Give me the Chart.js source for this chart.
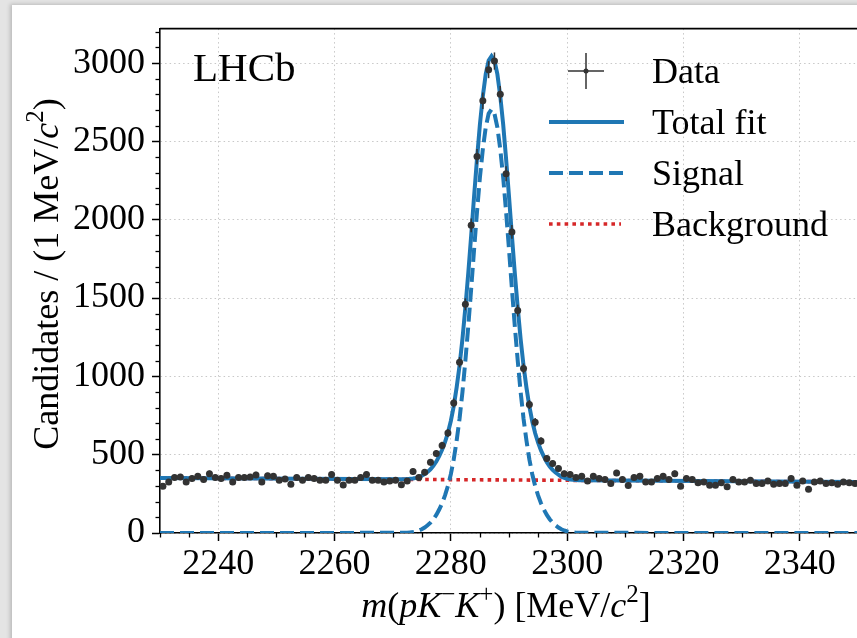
<!DOCTYPE html>
<html>
<head>
<meta charset="utf-8">
<script src="https://cdn.jsdelivr.net/npm/chart.js@4.4.1/dist/chart.umd.min.js"></script>
<style>
  html, body { margin: 0; padding: 0; width: 857px; height: 638px; overflow: hidden; background: #e4e4e4; }
  .sheet { position: absolute; left: 12px; top: 5px; width: 900px; height: 700px; background: #fff; box-shadow: -2px -1px 4px rgba(0,0,0,0.18); }
  #wrap { position: absolute; left: 0; top: 0; width: 872px; height: 638px; }
</style>
</head>
<body>
<div class="sheet"></div>
<div id="wrap"><canvas id="massChart" width="872" height="638"></canvas></div>
<script>
// bin centres of the 1 MeV histogram
const massBins = [
  2230.5, 2231.5, 2232.5, 2233.5, 2234.5, 2235.5, 2236.5, 2237.5, 2238.5, 2239.5,
  2240.5, 2241.5, 2242.5, 2243.5, 2244.5, 2245.5, 2246.5, 2247.5, 2248.5, 2249.5,
  2250.5, 2251.5, 2252.5, 2253.5, 2254.5, 2255.5, 2256.5, 2257.5, 2258.5, 2259.5,
  2260.5, 2261.5, 2262.5, 2263.5, 2264.5, 2265.5, 2266.5, 2267.5, 2268.5, 2269.5,
  2270.5, 2271.5, 2272.5, 2273.5, 2274.5, 2275.5, 2276.5, 2277.5, 2278.5, 2279.5,
  2280.5, 2281.5, 2282.5, 2283.5, 2284.5, 2285.5, 2286.5, 2287.5, 2288.5, 2289.5,
  2290.5, 2291.5, 2292.5, 2293.5, 2294.5, 2295.5, 2296.5, 2297.5, 2298.5, 2299.5,
  2300.5, 2301.5, 2302.5, 2303.5, 2304.5, 2305.5, 2306.5, 2307.5, 2308.5, 2309.5,
  2310.5, 2311.5, 2312.5, 2313.5, 2314.5, 2315.5, 2316.5, 2317.5, 2318.5, 2319.5,
  2320.5, 2321.5, 2322.5, 2323.5, 2324.5, 2325.5, 2326.5, 2327.5, 2328.5, 2329.5,
  2330.5, 2331.5, 2332.5, 2333.5, 2334.5, 2335.5, 2336.5, 2337.5, 2338.5, 2339.5,
  2340.5, 2341.5, 2342.5, 2343.5, 2344.5, 2345.5, 2346.5, 2347.5, 2348.5, 2349.5
];
const candidates = [
  299, 326, 354, 358, 326, 348, 362, 341, 379, 354,
  348, 369, 326, 354, 354, 358, 371, 326, 365, 362,
  337, 345, 311, 354, 337, 354, 348, 337, 337, 373,
  337, 307, 337, 337, 354, 373, 337, 337, 326, 332,
  337, 308, 332, 392, 354, 388, 451, 507, 559, 638,
  830, 1090, 1460, 1964, 2403, 2759, 2958, 3013, 2801, 2293,
  1922, 1420, 1050, 820, 707, 587, 475, 443, 411, 379,
  373, 354, 362, 332, 362, 348, 341, 316, 383, 341,
  303, 354, 362, 326, 326, 348, 362, 341, 379, 299,
  348, 341, 320, 326, 305, 305, 320, 295, 341, 326,
  326, 337, 316, 316, 332, 311, 316, 316, 348, 305,
  332, 280, 326, 332, 316, 320, 311, 326, 320, 316
];

// fit curves
const fitMass = [
  2230,
  2272, 2272.5, 2273, 2273.5, 2274, 2274.5, 2275, 2275.5, 2276, 2276.5,
  2277, 2277.5, 2278, 2278.5, 2279, 2279.5, 2280, 2280.5, 2281, 2281.5,
  2282, 2282.5, 2283, 2283.5, 2284, 2284.5, 2285, 2285.5, 2286, 2286.5,
  2287,
  2287.5, 2288, 2288.5, 2289, 2289.5, 2290, 2290.5, 2291, 2291.5, 2292,
  2292.5, 2293, 2293.5, 2294, 2294.5, 2295, 2295.5, 2296, 2296.5, 2297,
  2297.5, 2298, 2298.5, 2299, 2299.5, 2300, 2300.5, 2301, 2301.5, 2302,
  2350
];
const totalFit = [
  351,
  343, 344, 346, 348, 352, 357, 365, 376, 390, 407,
  429, 456, 491, 531, 580, 640, 715, 810, 930, 1070,
  1240, 1440, 1660, 1900, 2150, 2389, 2609, 2789, 2929, 3016,
  3044,
  3016, 2929, 2789, 2608, 2388, 2148, 1898, 1658, 1438, 1238,
  1068, 928, 808, 712, 637, 577, 527, 487, 452, 425,
  403, 386, 372, 360, 352, 346, 342, 340, 338, 337,
  326
];
const signalFit = [
  0,
  1, 2, 4, 6, 10, 16, 24, 35, 49, 66,
  88, 115, 150, 190, 240, 300, 375, 470, 590, 730,
  900, 1100, 1320, 1560, 1810, 2050, 2270, 2450, 2590, 2677,
  2705,
  2677, 2590, 2450, 2270, 2050, 1810, 1560, 1320, 1100, 900,
  730, 590, 470, 375, 300, 240, 190, 150, 115, 88,
  66, 49, 35, 24, 16, 10, 6, 4, 2, 1,
  0
];
const bkgMass = [2230, 2350];
const bkgFit = [351, 326];

const xTicks = [2240, 2260, 2280, 2300, 2320, 2340];
const yTicks = [0, 500, 1000, 1500, 2000, 2500, 3000];
const xMinorStep = 5;
const yMinorStep = 100;

const BLUE = '#1f77b4';
const RED = '#d62728';
const DOTS = '#333333';
const SERIF = "'Liberation Serif', 'DejaVu Serif', serif";

Chart.defaults.font.family = SERIF;
Chart.defaults.color = '#000';

const toXY = (xs, ys) => xs.map((x, i) => ({ x: x, y: ys[i] }));

// text with italic / superscript pieces
function fontFor(style, size) {
  const sup = style.indexOf('s') >= 0;
  const it = style.indexOf('i') >= 0;
  return (it ? 'italic ' : '') + (sup ? Math.round(size * 0.7) : size) + 'px ' + SERIF;
}
function richWidth(ctx, parts, size) {
  let w = 0;
  parts.forEach(p => {
    ctx.font = fontFor(p[1], size);
    w += ctx.measureText(p[0]).width;
  });
  return w;
}
function drawRich(ctx, parts, cx, baseline, size) {
  let x = cx - richWidth(ctx, parts, size) / 2;
  ctx.textAlign = 'left';
  ctx.textBaseline = 'alphabetic';
  parts.forEach(p => {
    ctx.font = fontFor(p[1], size);
    const lift = p[1].indexOf('s') >= 0 ? size * 0.42 : 0;
    ctx.fillText(p[0], x, baseline - lift);
    x += ctx.measureText(p[0]).width;
  });
}

const decorations = {
  id: 'decorations',
  afterDatasetsDraw(chart) {
    // vertical error bars on the data
    const ctx = chart.ctx;
    const ys = chart.scales.y;
    const meta = chart.getDatasetMeta(0);
    ctx.save();
    ctx.strokeStyle = DOTS;
    ctx.lineWidth = 1.5;
    meta.data.forEach((pt, i) => {
      const v = candidates[i];
      const err = Math.sqrt(v);
      ctx.beginPath();
      ctx.moveTo(pt.x, ys.getPixelForValue(v + err));
      ctx.lineTo(pt.x, ys.getPixelForValue(v - err));
      ctx.stroke();
    });
    ctx.restore();
  },
  afterDraw(chart) {
    const ctx = chart.ctx;
    const area = chart.chartArea;
    const xs = chart.scales.x;
    const ys = chart.scales.y;
    ctx.save();
    ctx.strokeStyle = '#000';
    ctx.lineWidth = 1.3;
    // minor ticks
    for (let v = xs.min; v <= xs.max; v += xMinorStep) {
      if (xTicks.indexOf(v) >= 0) continue;
      const px = Math.round(xs.getPixelForValue(v)) + 0.5;
      ctx.beginPath();
      ctx.moveTo(px, area.bottom);
      ctx.lineTo(px, area.bottom + 4.5);
      ctx.stroke();
    }
    for (let v = 0; v <= ys.max; v += yMinorStep) {
      if (yTicks.indexOf(v) >= 0) continue;
      const py = Math.round(ys.getPixelForValue(v)) + 0.5;
      ctx.beginPath();
      ctx.moveTo(area.left - 4.5, py);
      ctx.lineTo(area.left, py);
      ctx.stroke();
    }
    // top and right spines
    ctx.lineWidth = 1.6;
    ctx.beginPath();
    ctx.moveTo(area.left, area.top);
    ctx.lineTo(area.right, area.top);
    ctx.lineTo(area.right, area.bottom);
    ctx.stroke();

    // experiment label
    ctx.fillStyle = '#000';
    ctx.font = '41px ' + SERIF;
    ctx.textAlign = 'left';
    ctx.textBaseline = 'alphabetic';
    ctx.fillText('LHCb', 193, 81);

    // axis titles
    drawRich(ctx, [['m', 'i'], ['(', ''], ['pK', 'i'], ['\u2212', 's'], ['K', 'i'], ['+', 's'],
                   [') [MeV/', ''], ['c', 'i'], ['2', 's'], [']', '']], 506, 617, 36);
    ctx.save();
    ctx.translate(58, 274);
    ctx.rotate(-Math.PI / 2);
    drawRich(ctx, [['Candidates / (1 MeV/', ''], ['c', 'i'], ['2', 's'], [')', '']], 0, 0, 36);
    ctx.restore();

    // legend
    const rows = [71, 122, 173, 224];
    const labels = chart.data.datasets.map(d => d.label);
    ctx.font = '36px ' + SERIF;
    ctx.textAlign = 'left';
    ctx.textBaseline = 'alphabetic';
    labels.forEach((t, i) => ctx.fillText(t, 652, rows[i] + 12));
    // Data handle
    ctx.strokeStyle = DOTS;
    ctx.lineWidth = 1.5;
    ctx.beginPath();
    ctx.moveTo(568, rows[0]); ctx.lineTo(604, rows[0]);
    ctx.moveTo(586, rows[0] - 18); ctx.lineTo(586, rows[0] + 18);
    ctx.stroke();
    ctx.fillStyle = DOTS;
    ctx.beginPath(); ctx.arc(586, rows[0], 2.5, 0, Math.PI * 2); ctx.fill();
    // line handles
    [1, 2, 3].forEach(k => {
      const ds = chart.data.datasets[k];
      ctx.strokeStyle = ds.borderColor;
      ctx.lineWidth = ds.borderWidth;
      ctx.setLineDash(ds.borderDash || []);
      ctx.beginPath();
      ctx.moveTo(549, rows[k]);
      ctx.lineTo(k === 3 ? 621 : 624, rows[k]);
      ctx.stroke();
    });
    ctx.restore();
  }
};

const ctx = document.getElementById('massChart').getContext('2d');
new Chart(ctx, {
  type: 'scatter',
  data: {
    datasets: [
      {
        label: 'Data',
        data: toXY(massBins, candidates),
        pointRadius: 3.5,
        pointBorderWidth: 0,
        pointBackgroundColor: DOTS,
        order: 0
      },
      {
        label: 'Total fit',
        data: toXY(fitMass, totalFit),
        showLine: true,
        borderColor: BLUE,
        borderWidth: 4,
        pointRadius: 0,
        order: 1
      },
      {
        label: 'Signal',
        data: toXY(fitMass, signalFit),
        showLine: true,
        borderColor: BLUE,
        borderWidth: 4,
        borderDash: [14, 6],
        pointRadius: 0,
        order: 2
      },
      {
        label: 'Background',
        data: toXY(bkgMass, bkgFit),
        showLine: true,
        borderColor: RED,
        borderWidth: 3.6,
        borderDash: [3.6, 4.2],
        pointRadius: 0,
        order: 3
      }
    ]
  },
  options: {
    responsive: false,
    animation: false,
    layout: { padding: { top: 26, right: 14, left: 0, bottom: 0 } },
    plugins: { legend: { display: false }, tooltip: { enabled: false } },
    scales: {
      x: {
        type: 'linear',
        min: 2230,
        max: 2350,
        afterBuildTicks: s => { s.ticks = xTicks.map(v => ({ value: v })); },
        afterFit: s => { s.height = 105; },
        ticks: { font: { size: 36 }, color: '#000', padding: 2, maxRotation: 0, autoSkip: false,
                 callback: v => String(v) },
        grid: { color: '#c8c8c8', lineWidth: 1, tickColor: '#000', tickLength: 8, tickWidth: 1.5 },
        border: { color: '#000', width: 1.6, dash: [1.5, 3] }
      },
      y: {
        min: 0,
        max: 3220,
        afterBuildTicks: s => { s.ticks = yTicks.map(v => ({ value: v })); },
        afterFit: s => { s.width = 160; },
        ticks: { font: { size: 36 }, color: '#000', padding: 7, callback: v => String(v) },
        grid: { color: '#c8c8c8', lineWidth: 1, tickColor: '#000', tickLength: 8, tickWidth: 1.5 },
        border: { color: '#000', width: 1.6, dash: [1.5, 3] }
      }
    }
  },
  plugins: [decorations]
});
</script>
</body>
</html>
